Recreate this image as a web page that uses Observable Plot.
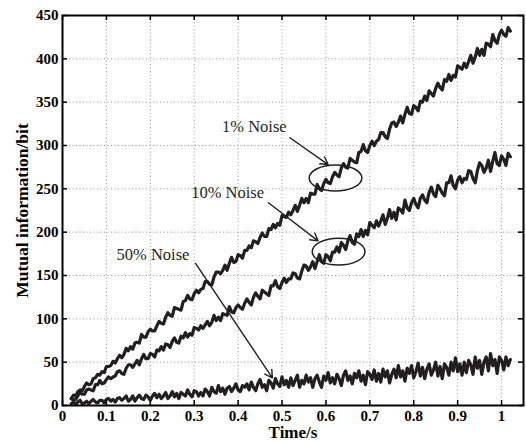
<!DOCTYPE html>
<html><head><meta charset="utf-8">
<script src="https://cdn.jsdelivr.net/npm/d3@7"></script>
<script src="https://cdn.jsdelivr.net/npm/@observablehq/plot@0.6"></script>
<style>html,body{margin:0;padding:0;background:#fff}#chart svg{display:block}</style>
</head><body><div id="chart"></div>
<script>
const time = [
0.020,0.025,0.030,0.035,0.040,0.045,0.050,0.055,0.060,0.065,0.070,0.075,0.080,0.085,0.090,0.095,0.100,0.105,0.110,0.115,
0.120,0.125,0.130,0.135,0.140,0.145,0.150,0.155,0.160,0.165,0.170,0.175,0.180,0.185,0.190,0.195,0.200,0.205,0.210,0.215,
0.220,0.225,0.230,0.235,0.240,0.245,0.250,0.255,0.260,0.265,0.270,0.275,0.280,0.285,0.290,0.295,0.300,0.305,0.310,0.315,
0.320,0.325,0.330,0.335,0.340,0.345,0.350,0.355,0.360,0.365,0.370,0.375,0.380,0.385,0.390,0.395,0.400,0.405,0.410,0.415,
0.420,0.425,0.430,0.435,0.440,0.445,0.450,0.455,0.460,0.465,0.470,0.475,0.480,0.485,0.490,0.495,0.500,0.505,0.510,0.515,
0.520,0.525,0.530,0.535,0.540,0.545,0.550,0.555,0.560,0.565,0.570,0.575,0.580,0.585,0.590,0.595,0.600,0.605,0.610,0.615,
0.620,0.625,0.630,0.635,0.640,0.645,0.650,0.655,0.660,0.665,0.670,0.675,0.680,0.685,0.690,0.695,0.700,0.705,0.710,0.715,
0.720,0.725,0.730,0.735,0.740,0.745,0.750,0.755,0.760,0.765,0.770,0.775,0.780,0.785,0.790,0.795,0.800,0.805,0.810,0.815,
0.820,0.825,0.830,0.835,0.840,0.845,0.850,0.855,0.860,0.865,0.870,0.875,0.880,0.885,0.890,0.895,0.900,0.905,0.910,0.915,
0.920,0.925,0.930,0.935,0.940,0.945,0.950,0.955,0.960,0.965,0.970,0.975,0.980,0.985,0.990,0.995,1.000,1.005,1.010,1.015,
1.020];

const noise1 = [
8,12,11,16,18,17,22,26,24,25,31,32,36,35,39,38,45,45,46,51,
49,54,58,55,59,66,63,68,65,72,73,72,82,79,79,85,88,86,86,92,
97,95,94,102,107,104,103,113,112,111,110,120,121,127,123,122,129,133,130,134,
135,143,143,140,139,148,154,154,152,156,162,156,164,171,165,166,174,173,170,179,
179,184,182,190,189,187,194,199,195,195,204,203,209,205,210,208,219,218,217,223,
220,225,231,224,231,239,234,239,234,245,244,244,255,250,248,256,261,257,256,264,
269,266,264,274,279,275,274,285,283,281,280,292,293,301,294,292,300,305,300,305,
307,315,315,310,308,319,326,327,322,327,334,326,336,344,337,336,346,344,340,351,
350,357,352,363,360,357,366,372,367,364,376,374,382,375,381,379,392,390,388,395,
390,397,404,395,402,412,404,411,404,418,417,414,428,421,418,428,433,428,426,436,
432];

const noise10 = [
8,6,7,11,15,13,13,18,19,18,17,24,24,29,25,26,30,33,31,33,
34,39,40,37,36,43,47,47,44,48,52,47,54,59,54,54,60,59,56,64,
63,68,64,71,70,67,74,78,73,72,80,78,84,79,83,81,90,89,87,92,
89,93,97,92,96,104,98,102,98,106,105,104,114,108,107,113,116,113,111,118,
123,119,116,125,130,126,123,133,131,129,127,138,138,144,137,135,142,147,142,146,
146,153,152,147,146,155,162,161,156,160,166,158,166,174,166,164,174,172,167,177,
177,183,177,188,185,180,190,196,188,186,198,195,203,195,202,197,211,208,205,213,
207,213,220,209,216,226,216,223,214,228,226,222,237,228,225,234,239,232,228,239,
243,237,234,246,252,244,241,254,250,245,242,257,257,265,254,250,260,264,257,262,
261,271,270,262,257,271,280,277,269,274,283,270,282,292,279,277,288,284,277,291,
287];

const noise50 = [
2,4,1,4,6,2,3,5,2,5,7,4,3,6,6,3,7,8,5,7,
4,8,9,6,8,11,5,7,11,5,9,12,8,7,12,10,6,11,14,9,
13,8,11,15,8,11,16,10,14,8,15,13,11,18,13,10,17,16,11,15,
11,19,16,11,21,16,14,23,16,20,13,20,22,16,20,25,18,16,23,21,
25,18,27,21,17,25,30,21,24,17,29,26,20,31,25,22,33,24,29,21,
32,23,29,35,21,29,25,35,27,32,21,31,35,27,21,34,29,38,26,32,
25,36,31,23,35,40,29,34,25,37,32,40,28,35,24,39,36,30,41,28,
37,27,42,33,40,26,36,42,32,46,33,40,28,43,37,46,32,39,49,34,
44,31,42,48,35,41,50,34,45,31,48,44,35,50,40,55,39,48,35,50,
38,52,47,36,56,43,52,36,50,56,40,60,46,53,37,56,52,41,56,46,
53];

const xTicks = [0,0.1,0.2,0.3,0.4,0.5,0.6,0.7,0.8,0.9,1];
const yTicks = [0,50,100,150,200,250,300,350,400,450];

const labelText = ["1% Noise","10% Noise","50% Noise"];
const labelX = [0.437,0.376,0.206];
const labelY = [322,246,174];
const arrowX1 = [0.518,0.469,0.303];
const arrowY1 = [309,234,164];
const arrowX2 = [0.605,0.582,0.478];
const arrowY2 = [278,190,32];
const ellipseX = [0.623,0.63];
const ellipseY = [262,177];
const ellipseRX = [0.06,0.06];
const ellipseRY = [15,15.5];

const series = [["1%",noise1],["10%",noise10],["50%",noise50]];
const rows = series.flatMap(([k,vals]) => vals.map((v,i) => ({t: time[i], v, k})));
const labels = labelText.map((text,i) => ({text, x: labelX[i], y: labelY[i]}));
const arrows = arrowX1.map((x1,i) => ({x1, y1: arrowY1[i], x2: arrowX2[i], y2: arrowY2[i]}));
const ellipses = ellipseX.map((x,i) => ({x, y: ellipseY[i], rx: ellipseRX[i], ry: ellipseRY[i]}));

const FONT = "'Liberation Serif','Times New Roman',Times,serif";
const INK = "#231f20";
const W = 526, H = 442, ML = 62, MR = 3, MT = 15, MB = 37;
const TICK = 5;

function ellipseMark(index, scales) {
  const g = d3.create("svg:g");
  for (const e of ellipses) {
    const cx = scales.x(e.x), cy = scales.y(e.y);
    const rx = Math.abs(scales.x(e.x + e.rx) - cx), ry = Math.abs(scales.y(e.y + e.ry) - cy);
    g.append("ellipse").attr("cx", cx).attr("cy", cy).attr("rx", rx).attr("ry", ry)
      .attr("fill", "none").attr("stroke", INK).attr("stroke-width", 1.5);
  }
  return g.node();
}

const chart = Plot.plot({
  width: W, height: H,
  marginLeft: ML, marginRight: MR, marginTop: MT, marginBottom: MB,
  style: {fontFamily: FONT, background: "#fff", color: "#000"},
  x: {domain: [0, 1.05]},
  y: {domain: [0, 450]},
  marks: [
    Plot.gridX(xTicks, {stroke: "#999", strokeOpacity: 1, strokeDasharray: "1,2.5"}),
    Plot.gridY(yTicks, {stroke: "#999", strokeOpacity: 1, strokeDasharray: "1,2.5"}),
    Plot.line(rows, {x: "t", y: "v", z: "k", stroke: INK, strokeWidth: 3.2, strokeLinejoin: "round"}),
    Plot.arrow(arrows, {x1: "x1", y1: "y1", x2: "x2", y2: "y2", stroke: INK, strokeWidth: 1.4, headLength: 9, bend: 0}),
    ellipseMark,
    Plot.text(labels, {x: "x", y: "y", text: "text", fontSize: 16.5, fontFamily: FONT, fill: INK}),
    Plot.axisX({ticks: xTicks, tickSize: 0, tickPadding: 5, tickFormat: d => String(d), fontSize: 15, fontWeight: "bold", label: null}),
    Plot.axisY({ticks: yTicks, tickSize: 0, tickPadding: 4, tickFormat: d => String(d), fontSize: 15, fontWeight: "bold", label: null}),
    Plot.tickX(xTicks, {x: d => d, insetTop: H - MT - MB - TICK, stroke: "#000", strokeWidth: 1.5}),
    Plot.tickX(xTicks, {x: d => d, insetBottom: H - MT - MB - TICK, stroke: "#000", strokeWidth: 1.5}),
    Plot.tickY(yTicks, {y: d => d, insetRight: W - ML - MR - TICK, stroke: "#000", strokeWidth: 1.5}),
    Plot.tickY(yTicks, {y: d => d, insetLeft: W - ML - MR - TICK, stroke: "#000", strokeWidth: 1.5}),
    Plot.frame({stroke: "#000", strokeWidth: 2}),
    Plot.text(["Time/s"], {frameAnchor: "bottom", lineAnchor: "middle", textAnchor: "middle", dy: 27, fontSize: 17, fontWeight: "bold", fontFamily: FONT, fill: "#000"}),
    Plot.text(["Mutual information/bit"], {frameAnchor: "left", textAnchor: "middle", lineAnchor: "middle", dx: -40, rotate: -90, fontSize: 17.5, fontWeight: "bold", fontFamily: FONT, fill: "#000"})
  ]
});
document.getElementById("chart").append(chart);
</script>
</body></html>
